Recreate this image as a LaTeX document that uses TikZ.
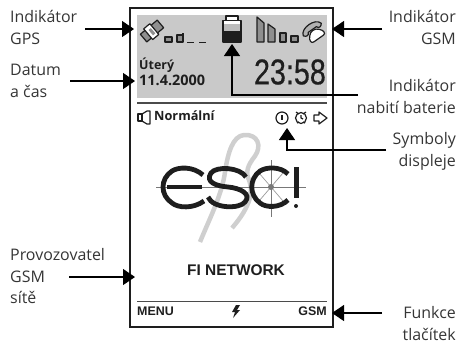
\documentclass[tikz,border=0pt]{standalone}
\usepackage{fontspec}
\setmainfont{Open Sans}
\newfontfamily\arialf{Liberation Sans}
\newfontfamily\timef[FakeBold=0.5]{Liberation Sans}
\usetikzlibrary{arrows.meta}
\definecolor{panelgray}{HTML}{C9C9C9}
\definecolor{ink}{HTML}{1E1E1E}
\definecolor{iconfill}{HTML}{8F8F8F}
\definecolor{feather}{HTML}{CFCFCF}
\tikzset{
 lab/.style={font=\fontsize{16}{21.8}\selectfont,align=right,inner sep=0pt,text=ink!90,anchor=north east},
 labl/.style={lab,align=left,anchor=north west},
 ptr/.style={line width=1.1bp,black,-{Triangle[length=12bp,width=16bp]}},
 icon/.style={line width=1.2bp,draw=ink,line join=round},
 dtext/.style={font=\bfseries\fontsize{14.5}{16}\selectfont,inner sep=0pt,anchor=west,text=ink},
 atext/.style={font=\arialf\bfseries\fontsize{12.5}{14}\selectfont,inner sep=0pt,text=ink},
 rule/.style={line width=1.5bp,draw=ink!80},
 logo/.style={line width=4.8bp,draw=ink,line cap=butt},
}
\begin{document}
\begin{tikzpicture}[x=1bp,y=-1bp]
\useasboundingbox (0,0) rectangle (459,343);
% frame
\fill[panelgray] (137,14.5) rectangle (327,98);
\draw[line width=1.5bp,draw=ink] (130,8) rectangle (333,327);
\draw[rule] (137,103) -- (327,103);
\draw[rule] (137,301.5) -- (327,301.5);
% GPS icon
\begin{scope}[shift={(152,31)},rotate=40]
\draw[icon,fill=iconfill] (-11,-5) rectangle (11,5);
\draw[icon,fill=white] (-5,-7) rectangle (3,7);
\fill[iconfill] (-2,-3) rectangle (1,4);
\end{scope}
\draw[icon,fill=iconfill] (165,37) rectangle (172,42);
\draw[icon,fill=iconfill] (177,35) rectangle (183,42);
\draw[icon,fill=white] (183,33) -- (183,42);
\draw[icon] (187,42.5) -- (194,42.5) (199,42.5) -- (206,42.5);
% battery
\draw[icon,fill=white,line width=1.3bp] (226,20) -- (226,16) -- (238,16) -- (238,20);
\draw[icon,fill=white,line width=1.4bp] (223,20.5) rectangle (241,42);
\fill[iconfill!60] (224,24) rectangle (240,31);
\fill[ink] (223,31) rectangle (241,43);
% GSM bars
\draw[icon,fill=iconfill] (257,17) -- (264,23) -- (264,42) -- (257,42) -- cycle;
\draw[icon,fill=iconfill] (268,24) -- (275,29) -- (275,42) -- (268,42) -- cycle;
\draw[icon,fill=iconfill] (280,33) -- (286,33) -- (286,42) -- (280,42) -- cycle;
\draw[icon,fill=iconfill] (291,36) -- (298,36) -- (298,42) -- (291,42) -- cycle;
% GSM phone
\begin{scope}[shift={(314,32)},rotate=35]
\draw[icon,fill=iconfill!70] (-11,-3) .. controls (-9,-11) and (9,-11) .. (11,-3) .. controls (9,0) and (6,0) .. (5,-3) -- (-5,-3) .. controls (-6,0) and (-9,0) .. (-11,-3) -- cycle;
\draw[icon,fill=white] (-6,1) .. controls (-3,-3) and (3,-3) .. (6,1) .. controls (9,4) and (9,8) .. (6,8) -- (-6,8) .. controls (-9,8) and (-9,4) .. (-6,1) -- cycle;
\end{scope}
% date and time
\node[dtext,font=\bfseries\fontsize{12.5}{14}\selectfont] (den) at (139,65) {Úterý};
\node[dtext] (datum) at (139,80) {11.4.2000};
\node[inner sep=0pt,anchor=east,font=\timef\fontsize{36}{36}\selectfont,xscale=0.8,text=ink] (cas) at (326,72) {23:58};
% status line
\draw[icon] (138,114) rectangle (142,121);
\draw[icon] (142,114) -- (147,111) -- (150,111) -- (150,124) -- (147,124) -- (142,121);
\node[dtext,font=\bfseries\fontsize{12.8}{14}\selectfont] (rezim) at (154,116) {Normální};
% symbols
\draw[icon] (282,118) circle (6);
\draw[icon] (282,115) -- (282,120);
\draw[icon] (301,118) circle (5.5);
\draw[icon] (296,112) -- (299,114) (306,112) -- (303,114) (301,115) -- (301,118) -- (303,119) (297,123) -- (299,122) (305,123) -- (303,122);
\draw[icon] (314,115) -- (319,115) -- (319,112) -- (327,118) -- (319,124) -- (319,121) -- (314,121) -- cycle;
% feather
\draw[feather,line width=4.5bp,line join=round] (200,242) .. controls (208,222) and (222,195) .. (225,172) .. controls (228,152) and (233,136) .. (244,135) .. controls (258,134) and (262,146) .. (255,156) .. controls (248,165) and (245,172) .. (249,180) .. controls (253,190) and (252,205) .. (232,228);
% logo cross
\draw[line width=1bp,draw=ink!60] (156,187) -- (306,187);
\draw[line width=0.9bp,draw=ink!60] (271,160) -- (271,217);
\draw[line width=0.7bp,draw=ink!45] (259,173) -- (283,201) (259,201) -- (283,173);
\fill[ink!60] (271,187) circle (3);
% logo letters
\draw[logo] (202,187) -- (167,187);
\draw[logo] (203,175) .. controls (193,166) and (178,167) .. (172,171) .. controls (160,179) and (160,195) .. (172,203) .. controls (178,208) and (193,209) .. (204,201);
\draw[logo] (246,177) .. controls (240,167) and (216,166) .. (211,173) .. controls (205,182) and (216,186) .. (228,187) .. controls (240,188) and (252,194) .. (245,202) .. controls (240,209) and (213,209) .. (208,197);
\draw[logo] (288,174) .. controls (280,166) and (266,167) .. (260,171) .. controls (249,179) and (249,195) .. (260,203) .. controls (266,208) and (280,208) .. (288,200);
\fill[ink] (293.5,167) rectangle (298.5,198);
\fill[ink] (296,206) circle (2);
% network and softkeys
\node[atext,font=\arialf\bfseries\fontsize{15.5}{17}\selectfont] (sit) at (236,270) {FI NETWORK};
\node[atext,anchor=west] (menu) at (137,311) {MENU};
\node[atext,anchor=east] (gsmk) at (327,311) {GSM};
\fill[ink] (236,305) -- (232,312) -- (235,312) -- (233,318) -- (240,310) -- (237,310) -- (240,305) -- cycle;
% labels
\node[labl] (lgps) at (10,10) {Indikátor\\GPS};
\node[labl] (ldat) at (10,64) {Datum\\a čas};
\node[labl] (lprov) at (10,248) {Provozovatel\\GSM\\sítě};
\node[lab] (lgsm) at (456,10) {Indikátor\\GSM};
\node[lab] (lbat) at (456,79) {Indikátor\\nabití baterie};
\node[lab] (lsym) at (456,132) {Symboly\\displeje};
\node[lab] (lfun) at (456,306) {Funkce\\tlačítek};
% pointer ends
\coordinate (tgps) at (134,29);
\coordinate (tdat) at (135,81);
\coordinate (tgsm) at (332,29);
\coordinate (tbat) at (232,44);
\coordinate (tsym) at (287,128);
\coordinate (tprov) at (135,277);
\coordinate (tfun) at (332,313);
\coordinate (sgps) at (85,29);
\coordinate (sdat) at (70,81);
\coordinate (sprov) at (69,277);
\coordinate (sgsm) at (382,29);
\coordinate (sbat) at (358,95);
\coordinate (ssym) at (386,150);
\coordinate (sfun) at (382,313);
\draw[ptr] (sgps) -- (tgps);
\draw[ptr] (sdat) -- (tdat);
\draw[ptr] (sprov) -- (tprov);
\draw[ptr] (sgsm) -- (tgsm);
\draw[ptr] (sbat) -| (tbat);
\draw[ptr] (ssym) -| (tsym);
\draw[ptr] (sfun) -- (tfun);
\end{tikzpicture}
\end{document}
